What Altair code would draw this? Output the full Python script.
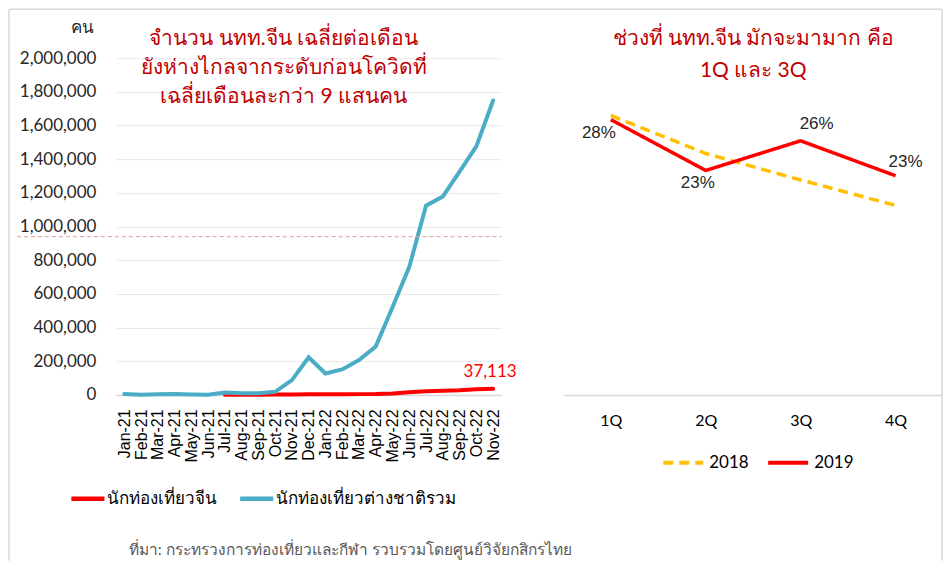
import altair as alt
import pandas as pd

# ---------------- data ----------------
months = ["Jan-21", "Feb-21", "Mar-21", "Apr-21", "May-21", "Jun-21", "Jul-21", "Aug-21",
          "Sep-21", "Oct-21", "Nov-21", "Dec-21", "Jan-22", "Feb-22", "Mar-22", "Apr-22",
          "May-22", "Jun-22", "Jul-22", "Aug-22", "Sep-22", "Oct-22", "Nov-22"]
total_foreign = [5000, 1000, 4000, 5000, 2000, 1000, 14000, 10000, 10000, 18000, 88000, 223000,
                 127000, 151000, 207000, 287000, 521000, 760000, 1124000, 1178000, 1327000,
                 1476000, 1749000]
china = [None, None, None, None, None, None, 500, 1000, 1500, 2000, 3000, 4000,
         3500, 3500, 4500, 5000, 8000, 15000, 21000, 24000, 27000, 33000, 37113]
series_names = ["นักท่องเที่ยวจีน", "นักท่องเที่ยวต่างชาติรวม"]
pre_covid_level = 940000
y_ticks = [0, 200000, 400000, 600000, 800000, 1000000, 1200000, 1400000, 1600000, 1800000, 2000000]
last_label = "37,113"

quarters = ["1Q", "2Q", "3Q", "4Q"]
share_2018 = [28.4, 24.8, 22.3, 19.9]
share_2019 = [28.0, 23.2, 26.0, 22.7]
share_labels_2019 = ["28%", "23%", "26%", "23%"]
years = ["2018", "2019"]

title_left = ["จำนวน นทท.จีน เฉลี่ยต่อเดือน", "ยังห่างไกลจากระดับก่อนโควิดที่", "เฉลี่ยเดือนละกว่า 9 แสนคน"]
title_right = ["ช่วงที่ นทท.จีน มักจะมามาก คือ", "1Q และ 3Q"]
source_text = "ที่มา: กระทรวงการท่องเที่ยวและกีฬา รวบรวมโดยศูนย์วิจัยกสิกรไทย"

# ---------------- styles ----------------
RED = "#FF0000"
BLUE = "#4BACC6"
YELLOW = "#FFC000"
TITLE_RED = "#C00000"
GRID = "#E9E9E9"
AXISLINE = "#D9D9D9"
BORDER = "#D9D9D9"
FONT = "Lato"
ARIAL = "Liberation Sans"

W1, H = 386, 337
W2 = 380

df_left = pd.DataFrame({
    "month": months * 2,
    "value": china + total_foreign,
    "series": [series_names[0]] * len(months) + [series_names[1]] * len(months),
})
df_left["order"] = list(range(len(months))) * 2

xscale1 = alt.Scale(type="point", padding=0.5, domain=months)
yscale1 = alt.Scale(domain=[0, 2000000], nice=False)

xenc = alt.X("month:O", sort=months, scale=xscale1,
             axis=alt.Axis(labelAngle=270, labelFont=ARIAL, labelFontSize=16, labelColor="#000000",
                           labelPadding=14, ticks=False, domainColor=AXISLINE, domainWidth=1.5,
                           title=None, labelAlign="right", labelBaseline="middle", grid=False))
yenc = alt.Y("value:Q", scale=yscale1,
             axis=alt.Axis(values=y_ticks, format=",d", labelFont=FONT, labelFontSize=17,
                           labelColor="#262626", labelPadding=20, ticks=False, domain=False,
                           labelOverlap=False, grid=True,
                           gridColor=GRID, gridWidth=1, title="คน", titleAngle=0,
                           titleX=-34, titleY=-31, titleFont=FONT, titleFontSize=17,
                           titleFontWeight="normal", titleColor="#262626", titleAlign="center",
                           titleBaseline="middle"))
color_left = alt.Color("series:N", scale=alt.Scale(domain=series_names, range=[RED, BLUE]),
                       legend=alt.Legend(title=None, orient="none", legendX=-47, legendY=422,
                                         direction="horizontal", symbolType="stroke",
                                         symbolSize=1100, symbolStrokeWidth=4.5,
                                         labelFont=FONT, labelFontSize=17, labelColor="#000000",
                                         columnPadding=14, labelOffset=0, labelLimit=400))

base_left = alt.Chart(df_left)
line_red = base_left.transform_filter(alt.datum.series == series_names[0]).mark_line(
    strokeWidth=4, strokeCap="round").encode(x=xenc, y=yenc, color=color_left, order="order:Q")
line_blue = base_left.transform_filter(alt.datum.series == series_names[1]).mark_line(
    strokeWidth=4, strokeCap="round").encode(x=xenc, y=yenc, color=color_left, order="order:Q")

ref_rule = alt.Chart(pd.DataFrame({"value": [pre_covid_level]})).mark_rule(
    color="#E0A0A0", strokeDash=[4, 3], strokeWidth=1).encode(
    y=yenc, x=alt.value(-99), x2=alt.value(W1))

label_last = alt.Chart(pd.DataFrame({"month": [months[-1]], "value": [china[-1]], "t": [last_label]})).mark_text(
    font=FONT, fontSize=17, color=RED, dx=-3, dy=-17, align="center", baseline="middle").encode(
    x=xenc, y=yenc, text="t:N")

one = alt.Data(values=[{}])
title_l = alt.Chart(one).mark_text(text=title_left, font=FONT, fontSize=21, color=TITLE_RED,
                                   lineHeight=29, align="center", baseline="middle").encode(
    x=alt.value(168), y=alt.value(-19))
source = alt.Chart(one).mark_text(text=source_text, font=FONT, fontSize=15.5, color="#595959",
                                  align="left", baseline="middle").encode(
    x=alt.value(13), y=alt.value(492))
border_top = alt.Chart(one).mark_rule(color=BORDER, strokeWidth=1.5).encode(
    x=alt.value(-107), x2=alt.value(827), y=alt.value(-49))
border_left = alt.Chart(one).mark_rule(color=BORDER, strokeWidth=1.5).encode(
    x=alt.value(-107), y=alt.value(-49), y2=alt.value(503))
border_right = alt.Chart(one).mark_rule(color=BORDER, strokeWidth=1.5).encode(
    x=alt.value(827), y=alt.value(-49), y2=alt.value(503))

left = alt.layer(line_red, line_blue, ref_rule, label_last, title_l, source,
                 border_top, border_left, border_right).properties(
    width=W1, height=H, view=alt.ViewBackground(stroke="transparent", strokeWidth=0))

# ---------------- right chart ----------------
df_right = pd.DataFrame({
    "q": quarters * 2,
    "share": share_2018 + share_2019,
    "year": [years[0]] * 4 + [years[1]] * 4,
})
xscale2 = alt.Scale(type="point", padding=0.5, domain=quarters)
yscale2 = alt.Scale(domain=[2.0, 33.8], nice=False, zero=False)
x2enc = alt.X("q:O", sort=quarters, scale=xscale2,
              axis=alt.Axis(labelAngle=0, labelFont=FONT, labelFontSize=16, labelColor="#000000",
                            labelPadding=18, ticks=False, domainColor=AXISLINE, domainWidth=1.5,
                            title=None, grid=False))
y2enc = alt.Y("share:Q", scale=yscale2, axis=None)
color_right = alt.Color("year:N", scale=alt.Scale(domain=years, range=[YELLOW, RED]),
                        legend=alt.Legend(title=None, orient="none", legendX=98, legendY=383,
                                          direction="horizontal", symbolType="stroke",
                                          symbolSize=1600, symbolStrokeWidth=4,
                                          labelFont=FONT, labelFontSize=17, labelColor="#000000",
                                          columnPadding=11, labelOffset=4))
dash_right = alt.StrokeDash("year:N", scale=alt.Scale(domain=years, range=[[10, 6], [1, 0]]),
                            legend=None)
lines_right = alt.Chart(df_right).mark_line(strokeWidth=3.5).encode(
    x=x2enc, y=y2enc, color=color_right, strokeDash=dash_right, order="year:N")

df_lab = pd.DataFrame({"q": quarters, "share": share_2019, "t": share_labels_2019})
offsets = [(-12, 13), (-8, 13), (16, -17), (10, -14)]
label_layers = []
for i, (dx, dy) in enumerate(offsets):
    label_layers.append(
        alt.Chart(df_lab).transform_filter(alt.datum.q == quarters[i]).mark_text(
            font=ARIAL, fontSize=17, color="#262626", dx=dx, dy=dy, align="center",
            baseline="middle").encode(x=x2enc, y=y2enc, text="t:N"))

title_r = alt.Chart(one).mark_text(text=title_right, font=FONT, fontSize=21, color=TITLE_RED,
                                   lineHeight=32, align="center", baseline="middle").encode(
    x=alt.value(190), y=alt.value(-19))

right = alt.layer(lines_right, *label_layers, title_r).properties(
    width=W2, height=H, view=alt.ViewBackground(stroke="transparent", strokeWidth=0))

chart = alt.hconcat(left, right, spacing=62, bounds="flush").resolve_scale(
    color="independent", strokeDash="independent", x="independent", y="independent"
).properties(padding=0).configure_view(strokeWidth=0, stroke="transparent").configure(background="white")

chart.save("out.html", embed_options={"renderer": "svg", "actions": False})
